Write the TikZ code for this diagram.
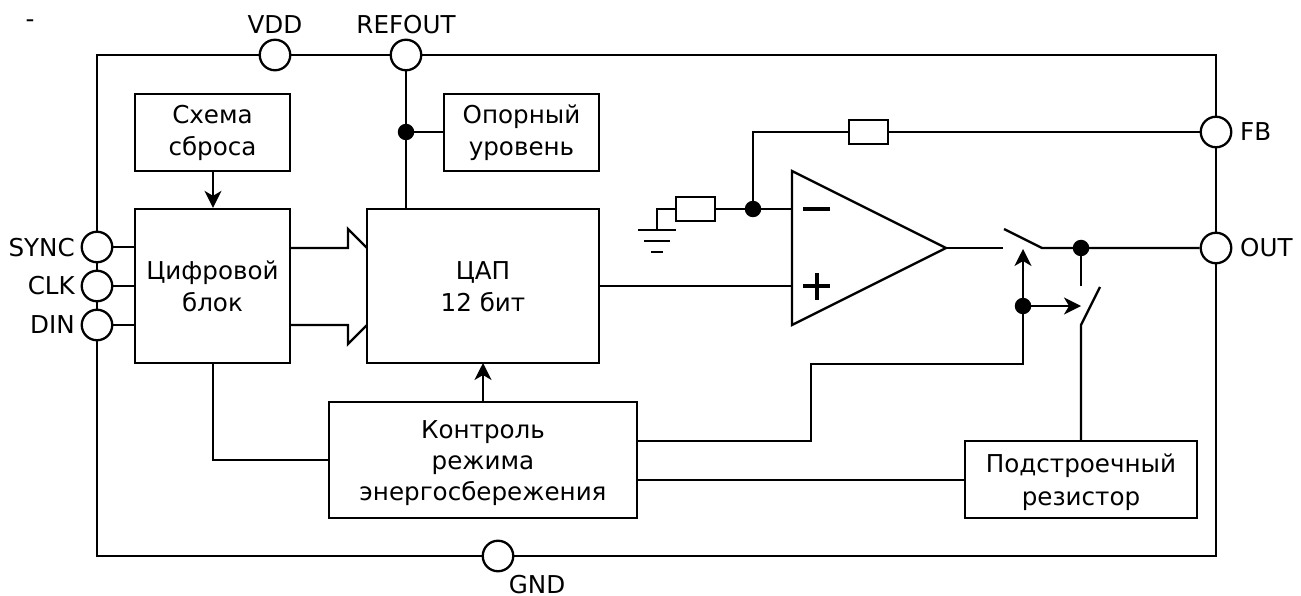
\documentclass[tikz,border=0pt]{standalone}
\usepackage{fontspec}
\setmainfont{DejaVu Sans}
\usetikzlibrary{arrows.meta}
\tikzset{
  wire/.style={draw=black,line width=2.3pt,line join=miter},
  arr/.style={wire,-{Stealth[length=17pt,width=17pt,inset=5pt]}},
  blockbox/.style={draw=black,line width=2.3pt,fill=white,minimum width=0pt,align=center,inner sep=0pt,font=\fontsize{24.6}{32}\selectfont},
  pin/.style={circle,draw=black,line width=2.3pt,fill=white,minimum size=30.5pt,inner sep=0pt},
  dot/.style={circle,fill=black,minimum size=16.5pt,inner sep=0pt},
  res/.style={draw=black,line width=2.3pt,fill=white,minimum width=39pt,minimum height=24pt,inner sep=0pt},
  lab/.style={inner sep=0pt,font=\fontsize{24.6}{27}\selectfont}
}
\newcommand{\blk}[6]{\node[blockbox,minimum width=#4pt-#2pt,minimum height=#5pt-#3pt] (#1) at ({(#2+#4)/2},{(#3+#5)/2}) {#6};}
\newcommand{\shifted}[3]{\raisebox{#1}[0pt][0pt]{\fontsize{24.6}{#2}\selectfont\begin{tabular}{@{}c@{}}#3\end{tabular}}}
\begin{document}
\begin{tikzpicture}[x=1pt,y=-1pt]
\useasboundingbox (0,0) rectangle (1301,596);
\fill[white] (0,0) rectangle (1301,596);
% frame
\coordinate (tl) at (97,55);\coordinate (tr) at (1216,55);\coordinate (br) at (1216,556);\coordinate (bl) at (97,556);
\draw[wire] (tl) -- (tr) -- (br) -- (bl) -- cycle;
% blocks
\blk{reset}{135}{94}{290}{171}{\shifted{-7.2pt}{32pt}{Схема\\сброса}}
\blk{digital}{135}{209}{290}{363}{\shifted{-9.2pt}{32pt}{Цифровой\\блок}}
\blk{dac}{367}{209}{599}{363}{\shifted{-9.2pt}{32pt}{ЦАП\\12 бит}}
\blk{ref}{444}{94}{599}{171}{\shifted{-7.2pt}{32pt}{Опорный\\уровень}}
\blk{pwr}{329}{402}{637}{518}{\shifted{-9.2pt}{31pt}{Контроль\\режима\\энергосбережения}}
\blk{trim}{965}{441}{1197}{518}{\shifted{-9.2pt}{33pt}{Подстроечный\\резистор}}
% pins
\node[pin] (vdd) at (275,55) {};
\node[pin] (refout) at (406,55) {};
\node[pin] (fb) at (1216,132) {};
\node[pin] (out) at (1216,248) {};
\node[pin] (gnd) at (498,556) {};
\node[pin] (sync) at (97,247) {};
\node[pin] (clk) at (97,286) {};
\node[pin] (din) at (97,325) {};
% labels
\node[lab] (lvdd) at (275,25) {VDD};
\node[lab] (lrefout) at (406,25) {REFOUT};
\node[lab,anchor=west] (lfb) at (1240,132) {FB};
\node[lab,anchor=west] (lout) at (1240,248) {OUT};
\node[lab] (lgnd) at (537,585) {GND};
\node[lab,anchor=east] (lsync) at (75,248) {SYNC};
\node[lab,anchor=east] (lclk) at (75,286) {CLK};
\node[lab,anchor=east] (ldin) at (75,325) {DIN};
\node[lab] (dash) at (30,24) {-};
% pin wires
\coordinate (syncd) at (135,247);\coordinate (clkd) at (135,286);\coordinate (dind) at (135,325);
\draw[wire] (sync) -- (syncd);
\draw[wire] (clk) -- (clkd);
\draw[wire] (din) -- (dind);
% reset arrow
\coordinate (d1) at (213,363);
\draw[arr] (d1 |- reset.south) -- (d1 |- digital.north);
% reference
\coordinate (dacref) at (406,209);
\node[dot] (jref) at (406,132) {};
\draw[wire] (refout) -- (dacref);
\draw[wire] (jref) -- (jref -| ref.west);
% buses
\coordinate (ba) at (290,248);\coordinate (bb) at (348,248);\coordinate (bc) at (348,229);\coordinate (bd) at (367,248);
\draw[wire] (ba) -- (bb) -- (bc) -- (bd);
\coordinate (ca) at (290,325);\coordinate (cb) at (348,325);\coordinate (cc) at (348,344);\coordinate (cd) at (367,325);
\draw[wire] (ca) -- (cb) -- (cc) -- (cd);
% opamp
\coordinate (oa) at (792,171);\coordinate (ob) at (792,325);\coordinate (oc) at (946,248);
\draw[wire,fill=white] (oa) -- (oc) -- (ob) -- cycle;
\coordinate (om1) at (803,209);\coordinate (om2) at (830,209);
\draw[line width=4pt] (om1) -- (om2);
\coordinate (op1) at (803,286);\coordinate (op2) at (830,286);\coordinate (op3) at (817,273);\coordinate (op4) at (817,300);
\draw[line width=4pt] (op1) -- (op2) (op3) -- (op4);
\coordinate (oinp) at (792,286);\coordinate (oinm) at (792,209);
\draw[wire] (dac.east |- oinp) -- (oinp);
% feedback
\node[dot] (jfb) at (753,209) {};
\node[res] (r1) at (868.5,132) {};
\node[res] (r2) at (695.5,209) {};
\coordinate (corner) at (753,132);
\draw[wire] (jfb) -- (oinm);
\draw[wire] (jfb) -- (r2);
\draw[wire] (jfb) -- (corner) -- (r1);
\draw[wire] (r1) -- (fb);
% ground
\coordinate (g0) at (657,209);\coordinate (g1) at (657,230);
\draw[wire] (r2) -- (g0) -- (g1);
\coordinate (g1a) at (638,230);\coordinate (g1b) at (676,230);
\coordinate (g2a) at (644,241);\coordinate (g2b) at (670,241);
\coordinate (g3a) at (651,252);\coordinate (g3b) at (663,252);
\draw[wire] (g1a) -- (g1b) (g2a) -- (g2b) (g3a) -- (g3b);
% switches
\coordinate (s1a) at (1003,248);\coordinate (s1b) at (1004,229);\coordinate (s1c) at (1042,248);
\draw[wire] (oc) -- (s1a);
\draw[wire] (s1b) -- (s1c) -- (out);
\node[dot] (jout) at (1081,248) {};
\coordinate (s2a) at (1081,286);\coordinate (s2b) at (1081,325);\coordinate (s2c) at (1100,287);
\draw[wire] (jout) -- (s2a);
\draw[wire] (trim.north -| s2b) -- (s2b) -- (s2c);
% control
\node[dot] (jc) at (1023,306) {};
\coordinate (c1) at (637,441);\coordinate (c2) at (811,441);\coordinate (c3) at (811,364);\coordinate (c4) at (1023,364);
\draw[wire] (c1) -- (c2) -- (c3) -- (c4) -- (jc);
\coordinate (ctop) at (1023,249);\coordinate (cright) at (1081,306);
\draw[arr] (jc) -- (ctop);
\draw[arr] (jc) -- (cright);
\coordinate (t1) at (637,480);\coordinate (t2) at (965,480);
\draw[wire] (t1) -- (t2);
\coordinate (d2) at (213,460);\coordinate (d3) at (329,460);
\draw[wire] (d1) -- (d2) -- (d3);
\coordinate (p1) at (483,402);\coordinate (p2) at (483,363);
\draw[arr] (p1) -- (p2);
\end{tikzpicture}
\end{document}
